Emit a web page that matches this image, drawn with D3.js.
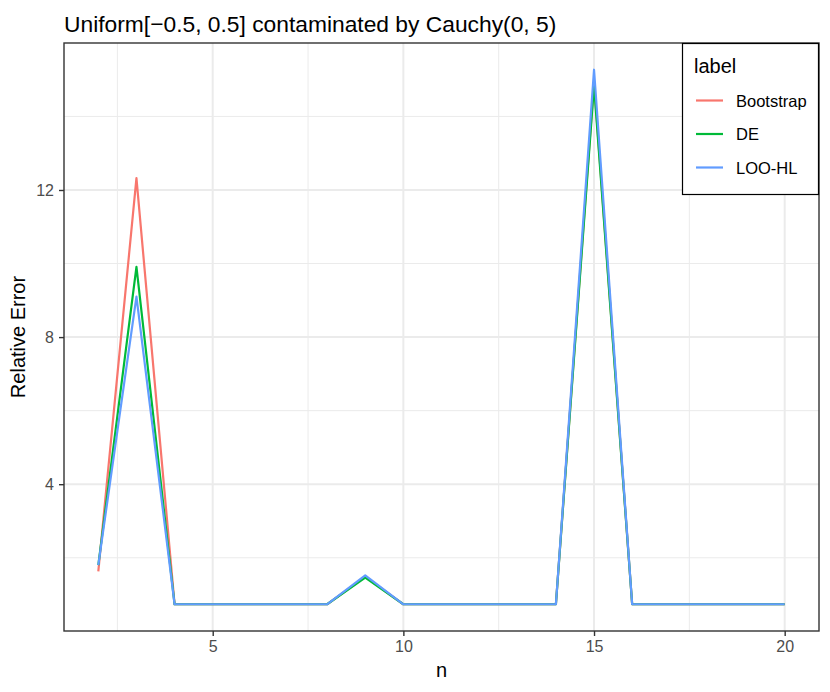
<!DOCTYPE html>
<html><head><meta charset="utf-8">
<script src="https://cdn.jsdelivr.net/npm/d3@7"></script>
<style>body{margin:0;background:#fff}svg{font-family:"Liberation Sans",Arial,sans-serif}</style>
</head><body><svg id="c" width="830" height="692"></svg>
<script>
const nValues = [2,3,4,5,6,7,8,9,10,11,12,13,14,15,16,17,18,19,20];
const bootstrap = [1.63,12.32,0.735,0.735,0.735,0.735,0.735,1.49,0.735,0.735,0.735,0.735,0.735,14.95,0.735,0.735,0.735,0.735,0.735];
const de        = [1.80,9.91,0.735,0.735,0.735,0.735,0.735,1.46,0.735,0.735,0.735,0.735,0.735,14.85,0.735,0.735,0.735,0.735,0.735];
const looHL     = [1.80,9.10,0.735,0.735,0.735,0.735,0.735,1.52,0.735,0.735,0.735,0.735,0.735,15.27,0.735,0.735,0.735,0.735,0.735];
const seriesNames = ["Bootstrap","DE","LOO-HL"];
const seriesColors = ["#F8766D","#00BA38","#619CFF"];
const xTicks = [5,10,15,20];
const xMinor = [2.5,7.5,12.5,17.5];
const yTicks = [4,8,12];
const yMinor = [2,6,10,14];

const svg = d3.select("#c");
const L=64, R=819, T=43, B=631;
const allVals = bootstrap.concat(de, looHL);
const yMin = d3.min(allVals), yMax = d3.max(allVals), yPad = (yMax-yMin)*0.05;
const xPad = (d3.max(nValues)-d3.min(nValues))*0.05;
const x = d3.scaleLinear().domain([d3.min(nValues)-xPad, d3.max(nValues)+xPad]).range([L,R]);
const y = d3.scaleLinear().domain([yMin-yPad, yMax+yPad]).range([B,T]);

const g = svg.append("g");
g.selectAll(".xm").data(xMinor).enter().append("line").attr("x1",d=>x(d)).attr("x2",d=>x(d)).attr("y1",T).attr("y2",B).attr("stroke","#EBEBEB").attr("stroke-width",1);
g.selectAll(".ym").data(yMinor).enter().append("line").attr("y1",d=>y(d)).attr("y2",d=>y(d)).attr("x1",L).attr("x2",R).attr("stroke","#EBEBEB").attr("stroke-width",1);
g.selectAll(".xM").data(xTicks).enter().append("line").attr("x1",d=>x(d)).attr("x2",d=>x(d)).attr("y1",T).attr("y2",B).attr("stroke","#EBEBEB").attr("stroke-width",2);
g.selectAll(".yM").data(yTicks).enter().append("line").attr("y1",d=>y(d)).attr("y2",d=>y(d)).attr("x1",L).attr("x2",R).attr("stroke","#EBEBEB").attr("stroke-width",2);

const series = [bootstrap, de, looHL];
const line = d3.line().x((d,i)=>x(nValues[i])).y(d=>y(d));
series.forEach((s,k)=>{
  g.append("path").datum(s).attr("d",line).attr("fill","none").attr("stroke",seriesColors[k]).attr("stroke-width",2.2).attr("stroke-linejoin","round");
});

svg.append("rect").attr("x",L).attr("y",T).attr("width",R-L).attr("height",B-T).attr("fill","none").attr("stroke","#333333").attr("stroke-width",1.4);

const xAxis = svg.append("g").attr("transform",`translate(0,${B})`).call(d3.axisBottom(x).tickValues(xTicks).tickSize(5).tickPadding(5));
const yAxis = svg.append("g").attr("transform",`translate(${L},0)`).call(d3.axisLeft(y).tickValues(yTicks).tickSize(5).tickPadding(5));
[xAxis,yAxis].forEach(a=>{
  a.select(".domain").remove();
  a.selectAll(".tick line").attr("stroke","#333333").attr("stroke-width",1.4);
  a.selectAll(".tick text").attr("fill","#4D4D4D").style("font-size","16px").style("font-family","'Liberation Sans',Arial,sans-serif");
});

svg.append("text").attr("x",(L+R)/2).attr("y",677).attr("text-anchor","middle").style("font-size","20px").attr("fill","#000").text("n");
svg.append("text").attr("transform",`translate(25,${(T+B)/2}) rotate(-90)`).attr("text-anchor","middle").style("font-size","20px").attr("fill","#000").text("Relative Error");
svg.append("text").attr("x",64).attr("y",31.5).style("font-size","22.8px").attr("fill","#000").text("Uniform[\u22120.5, 0.5] contaminated by Cauchy(0, 5)");

const lg = svg.append("g");
lg.append("rect").attr("x",682.5).attr("y",43.5).attr("width",136).attr("height",151).attr("fill","#fff").attr("stroke","#000").attr("stroke-width",1.2);
lg.append("text").attr("x",694).attr("y",72.5).style("font-size","20px").text("label");
const ly = [100.5,134,167.5];
seriesNames.forEach((nm,i)=>{
  lg.append("line").attr("x1",696).attr("x2",723).attr("y1",ly[i]).attr("y2",ly[i]).attr("stroke",seriesColors[i]).attr("stroke-width",2.2);
  lg.append("text").attr("x",736).attr("y",ly[i]+6).style("font-size","16.5px").text(nm);
});
</script></body></html>
